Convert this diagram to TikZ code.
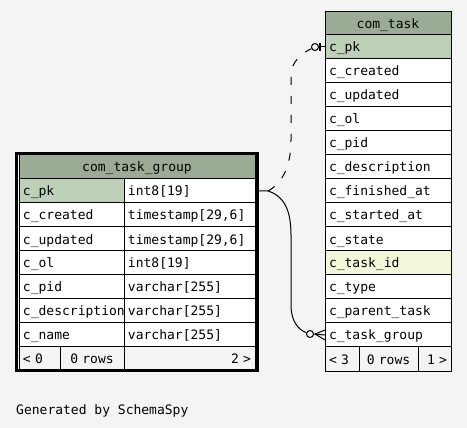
\documentclass[tikz,border=0pt]{standalone}
\usepackage{fontspec}
\setmonofont{DejaVu Sans Mono}
\usetikzlibrary{calc}
\definecolor{headgreen}{RGB}{155,171,150}
\definecolor{pkgreen}{RGB}{190,209,184}
\definecolor{fkyellow}{RGB}{244,247,218}
\definecolor{pagegray}{RGB}{244,244,244}

\begin{document}
\begin{tikzpicture}[x=1pt, y=-1pt,
    cell/.style={draw, line width=1pt, fill=white, anchor=north west, minimum height=24pt,
        inner xsep=4pt, inner ysep=0pt, outer sep=0pt, text height=10pt, text depth=0pt,
        font=\ttfamily\fontsize{13}{15}\selectfont, align=left},
    keycol/.style={cell, text width=97pt},
    typecol/.style={cell, text width=123pt},
    taskcol/.style={cell, text width=118pt},
    headcell/.style={fill=headgreen, align=center},
    pkcell/.style={fill=pkgreen},
    fkcell/.style={fill=fkyellow},
    footcell/.style={cell, fill=pagegray},
    ring/.style={circle, draw, line width=1pt, fill=pagegray, minimum size=7pt, inner sep=0pt},
    relation/.style={line width=1pt}
]
    % Page
    \fill[pagegray] (0,0) rectangle (467,428);
    \useasboundingbox (0,0) rectangle (467,428);

    % Table com_task_group
    \node[cell, headcell, text width=228pt] (g-head) at (19,155) {com\_task\_group};
    \node[keycol, pkcell] (g-pk) at (19,179) {c\_pk};
    \node[typecol] (g-pk-t) at (124,179) {int8[19]};
    \node[keycol] (g-created) at (19,203) {c\_created};
    \node[typecol] (g-created-t) at (124,203) {timestamp[29,6]};
    \node[keycol] (g-updated) at (19,227) {c\_updated};
    \node[typecol] (g-updated-t) at (124,227) {timestamp[29,6]};
    \node[keycol] (g-ol) at (19,251) {c\_ol};
    \node[typecol] (g-ol-t) at (124,251) {int8[19]};
    \node[keycol] (g-pid) at (19,275) {c\_pid};
    \node[typecol] (g-pid-t) at (124,275) {varchar[255]};
    \node[keycol] (g-desc) at (19,299) {c\_description};
    \node[typecol] (g-desc-t) at (124,299) {varchar[255]};
    \node[keycol] (g-name) at (19,323) {c\_name};
    \node[typecol] (g-name-t) at (124,323) {varchar[255]};
    \node[footcell, text width=33pt, minimum height=23pt] (g-parents) at (19,347) {< 0};
    \node[footcell, text width=56pt, minimum height=23pt, align=center] (g-rows) at (60,347) {0 rows};
    \node[footcell, text width=123pt, minimum height=23pt, align=right] (g-children) at (124,347) {2 >};
    \draw[line width=3pt] (16.5,153.5) rectangle (257.5,370.5);

    % Table com_task
    \node[taskcol, headcell, minimum height=23pt] (t-head) at (325,12) {com\_task};
    \node[taskcol, pkcell] (t-pk) at (325,35) {c\_pk};
    \node[taskcol] (t-created) at (325,59) {c\_created};
    \node[taskcol] (t-updated) at (325,83) {c\_updated};
    \node[taskcol] (t-ol) at (325,107) {c\_ol};
    \node[taskcol] (t-pid) at (325,131) {c\_pid};
    \node[taskcol] (t-desc) at (325,155) {c\_description};
    \node[taskcol] (t-finished) at (325,179) {c\_finished\_at};
    \node[taskcol] (t-started) at (325,203) {c\_started\_at};
    \node[taskcol] (t-state) at (325,227) {c\_state};
    \node[taskcol, fkcell] (t-taskid) at (325,251) {c\_task\_id};
    \node[taskcol] (t-type) at (325,275) {c\_type};
    \node[taskcol] (t-parent) at (325,299) {c\_parent\_task};
    \node[taskcol] (t-group) at (325,323) {c\_task\_group};
    \node[footcell, text width=26pt] (t-parents) at (325,347) {< 3};
    \node[footcell, text width=51pt, align=center] (t-rows) at (359,347) {0 rows};
    \node[footcell, text width=25pt, align=right] (t-children) at (418,347) {1 >};

    % Relations
    \coordinate (fork) at ($(g-pk-t.east)+(13,0)$);
    \node[ring] (r1) at ($(t-pk.west)+(-10,0)$) {};
    \node[ring] (r2) at ($(t-group.west)+(-15,-1)$) {};

    \draw[relation, dash pattern=on 8pt off 11pt] (fork)
        .. controls (283,183) and (291,165) .. (291,140) -- (291,75)
        .. controls (291,62) and (302,53) .. (r1);
    \draw[relation] (r1.east) -- (t-pk.west);
    \draw[line width=2pt] ($(t-pk.west)+(-5,-4)$) -- ($(t-pk.west)+(-5,4)$);

    \draw[relation] (g-pk-t.east) -- (fork)
        .. controls (284,196) and (291,210) .. (291,235) -- (291,305)
        .. controls (291,322) and (299,330) .. (r2);
    \draw[relation] (r2.east) -- (t-group.west);
    \draw[relation] ($(r2.east)+(1,0)$) -- ($(t-group.west)+(0,-5)$);
    \draw[relation] ($(r2.east)+(1,0)$) -- ($(t-group.west)+(0,5)$);

    % Footer text
    \node[anchor=base west, inner sep=0pt, font=\ttfamily\fontsize{13}{15}\selectfont] (credit) at (16,414) {Generated by SchemaSpy};
\end{tikzpicture}
\end{document}
